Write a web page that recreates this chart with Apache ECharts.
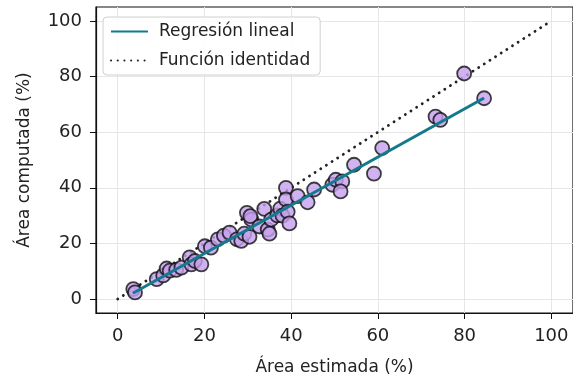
<!DOCTYPE html>
<html>
<head>
<meta charset="UTF-8">
<title></title>
<script src="https://cdn.jsdelivr.net/npm/echarts@6/dist/echarts.min.js"></script>
<style>
html, body { margin: 0; padding: 0; background: #fff; }
</style>
</head>
<body>
<div id="main" style="width: 573px;height:381px;"></div>
<script type="text/javascript">
// puntos: area estimada vs area computada (%)
var estX  = [3.6, 4.0, 9.0, 10.5, 11.3, 12.0, 13.5, 14.7, 16.6, 17.0, 17.8, 19.3, 20.1, 21.5, 23.1, 24.5, 25.8, 27.5, 28.5, 29.2,
             29.8, 30.4, 30.8, 30.6, 32.7, 33.8, 34.6, 35.4, 35.0, 36.8, 37.5, 38.0, 38.8, 38.8, 39.2, 39.6, 41.5, 43.8, 45.3, 49.5,
             50.3, 51.8, 51.4, 54.5, 59.1, 61.0, 73.3, 74.4, 79.9, 84.5];
var compY = [3.6, 2.4, 7.2, 8.5, 11.0, 10.2, 10.5, 11.3, 15.0, 12.5, 13.7, 12.5, 19.0, 18.5, 21.5, 22.8, 23.9, 21.5, 20.9, 23.5,
             31.0, 22.4, 28.6, 29.8, 26.1, 32.4, 25.0, 28.6, 23.5, 30.1, 32.5, 30.0, 40.0, 35.8, 31.4, 27.2, 37.0, 34.8, 39.4, 41.1,
             42.9, 42.3, 38.7, 48.3, 45.1, 54.3, 65.6, 64.4, 81.1, 72.2];
// extremos de las rectas
var regX = [3.5, 84.5], regY = [2.1, 72.3];
var idX = [0, 100], idY = [0, 100];
var ticks = [0, 20, 40, 60, 80, 100];

function pairs(a, b) {
    return a.map(function (v, i) { return [v, b[i]]; });
}

var myChart = echarts.init(document.getElementById('main'));
var font = 'DejaVu Sans';
var axisCommon = {
    type: 'value',
    min: -5,
    max: 105,
    nameLocation: 'middle',
    nameTextStyle: { fontFamily: font, fontSize: 17, color: '#222' },
    axisLine: { show: true, onZero: false, lineStyle: { color: '#111', width: 1.2 } },
    axisTick: { show: true, length: 6, customValues: ticks, lineStyle: { color: '#111' } },
    axisLabel: { fontFamily: font, fontSize: 18, color: '#222', margin: 14, customValues: ticks },
    splitLine: { show: true, lineStyle: { color: '#e6e6e6', width: 1 } }
};
var option = {
    animation: false,
    backgroundColor: '#fff',
    grid: { left: 96, right: -2, top: 7, bottom: 67, show: true, borderColor: '#111', borderWidth: 1.2 },
    legend: {
        left: 103, top: 17,
        orient: 'vertical',
        itemWidth: 37, itemHeight: 16, itemGap: 12,
        padding: [6, 10, 6, 7],
        backgroundColor: 'rgba(255,255,255,0.85)',
        borderColor: '#d0d0d0', borderWidth: 1, borderRadius: 4,
        itemStyle: { opacity: 0 },
        textStyle: { fontFamily: font, fontSize: 17, color: '#222', padding: [0, 0, 0, 6] },
        data: ['Regresión lineal', 'Función identidad']
    },
    xAxis: Object.assign({}, axisCommon, { name: 'Área estimada (%)', nameGap: 46 }),
    yAxis: Object.assign({}, axisCommon, { name: 'Área computada (%)', nameGap: 63 }),
    series: [
        {
            name: 'Función identidad',
            type: 'line',
            data: pairs(idX, idY),
            symbol: 'none',
            z: 1,
            lineStyle: { color: '#222', width: 2.8, type: [0.1, 6.6], cap: 'round' },
            itemStyle: { color: '#222' }
        },
        {
            name: 'puntos',
            type: 'scatter',
            data: pairs(estX, compY),
            symbolSize: 14,
            z: 2,
            itemStyle: { color: '#c6a0ee', borderColor: '#111', borderWidth: 1.8 }
        },
        {
            name: 'Regresión lineal',
            type: 'line',
            data: pairs(regX, regY),
            symbol: 'none',
            z: 3,
            lineStyle: { color: '#127a8c', width: 3 },
            itemStyle: { color: '#127a8c' }
        }
    ]
};
myChart.setOption(option);
</script>
</body>
</html>
